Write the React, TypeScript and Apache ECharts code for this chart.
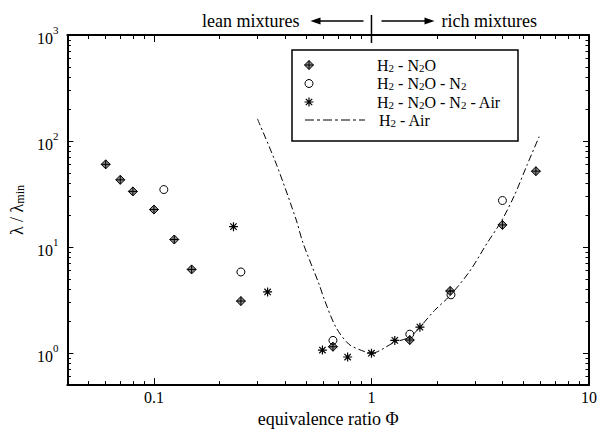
import React, { useEffect, useRef } from 'react';
import * as echarts from 'echarts';

// ---- axis ranges & ticks ----
const xMin = 0.04;
const xMax = 10;
const yMin = 0.5;
const yMax = 1000;
const xMajorTicks = [0.1, 1, 10];
const xMinorTicks = [0.05, 0.06, 0.07, 0.08, 0.09, 0.2, 0.3, 0.4, 0.5, 0.6, 0.7, 0.8, 0.9, 2, 3, 4, 5, 6, 7, 8, 9];
const yMajorTicks = [1, 10, 100, 1000];
const yMinorTicks = [0.6, 0.7, 0.8, 0.9, 2, 3, 4, 5, 6, 7, 8, 9, 20, 30, 40, 50, 60, 70, 80, 90, 200, 300, 400, 500, 600, 700, 800, 900];

// ---- data ----
const seriesNames = ['H2 - N2O', 'H2 - N2O - N2', 'H2 - N2O - N2 - Air', 'H2 - Air'];

const n2oPhi = [0.060, 0.070, 0.080, 0.100, 0.124, 0.149, 0.251, 0.665, 1.50, 2.30, 4.0, 5.7];
const n2oLam = [60.3, 43.1, 33.5, 22.6, 11.8, 6.16, 3.1, 1.15, 1.33, 3.86, 16.2, 52];

const n2oN2Phi = [0.111, 0.251, 0.665, 1.50, 2.32, 4.0];
const n2oN2Lam = [34.9, 5.83, 1.32, 1.51, 3.55, 27.5];

const n2oN2AirPhi = [0.232, 0.333, 0.595, 0.777, 1.0, 1.28, 1.67];
const n2oN2AirLam = [15.6, 3.78, 1.07, 0.92, 1.0, 1.32, 1.76];

const h2AirPhi = [0.299, 0.367, 0.451, 0.484, 0.575, 0.606, 0.684, 0.785, 0.901, 1.0, 1.27, 1.5, 1.67, 1.95, 2.29, 2.82, 3.41, 3.95, 4.55, 5.2, 5.9];
const h2AirLam = [162, 59, 18, 11, 4.44, 3.24, 1.78, 1.22, 1.06, 1.0, 1.26, 1.42, 1.76, 2.53, 3.47, 5.87, 11, 17.5, 31, 60, 110];

const FONT = 'Liberation Serif';

const crossDiamondPath = 'M0,-4.5L4.5,0L0,4.5L-4.5,0ZM0,-4.5L0,4.5M-4.5,0L4.5,0';
const asteriskPath = 'M-4.5,0L4.5,0M0,-4.5L0,4.5M-3.2,-3.2L3.2,3.2M-3.2,3.2L3.2,-3.2';

let shapesRegistered = false;
function registerShapes() {
  if (shapesRegistered) return;
  echarts.graphic.registerShape('crossDiamond', echarts.graphic.extendPath(crossDiamondPath, {}) as any);
  echarts.graphic.registerShape('asteriskMark', echarts.graphic.extendPath(asteriskPath, {}) as any);
  shapesRegistered = true;
}

const zip = (a: number[], b: number[]) => a.map((v, i) => [v, b[i]]);

const subRich = {
  a: { fontSize: 16, fontFamily: FONT, color: '#000', lineHeight: 16, verticalAlign: 'top' },
  s: { fontSize: 11, fontFamily: FONT, color: '#000', lineHeight: 10, verticalAlign: 'bottom' },
};

function makeXAxis(position: 'top' | 'bottom', major: boolean, withLabel: boolean) {
  return {
    type: 'log',
    logBase: 10,
    min: xMin,
    max: xMax,
    position,
    axisLine: { show: major, onZero: false, lineStyle: { color: '#000', width: 2 } },
    axisTick: {
      show: true,
      inside: true,
      length: major ? 7 : 4,
      lineStyle: { color: '#000', width: 1 },
      customValues: major ? xMajorTicks : xMinorTicks,
    },
    axisLabel: withLabel
      ? {
          show: true,
          customValues: xMajorTicks,
          margin: 4,
          color: '#000',
          fontFamily: FONT,
          fontSize: 16,
          formatter: (v: number) => (v < 1 ? v.toFixed(1) : String(Math.round(v))),
        }
      : { show: false },
    splitLine: { show: false },
    minorTick: { show: false },
    ...(withLabel
      ? {
          name: 'equivalence ratio Φ',
          nameLocation: 'middle',
          nameGap: 19,
          nameTextStyle: { fontFamily: FONT, fontSize: 18, color: '#000' },
        }
      : {}),
  };
}

function makeYAxis(position: 'left' | 'right', major: boolean, withLabel: boolean) {
  return {
    type: 'log',
    logBase: 10,
    min: yMin,
    max: yMax,
    position,
    axisLine: { show: major, onZero: false, lineStyle: { color: '#000', width: 2 } },
    axisTick: {
      show: true,
      inside: true,
      length: major ? 6 : 3.5,
      lineStyle: { color: '#000', width: 1 },
      customValues: major ? yMajorTicks : yMinorTicks,
    },
    axisLabel: withLabel
      ? {
          show: true,
          customValues: yMajorTicks,
          margin: 9,
          formatter: (v: number) => `{b|10}{sup|${Math.round(Math.log10(v))}}`,
          rich: {
            b: { fontSize: 16, fontFamily: FONT, color: '#000', lineHeight: 22, verticalAlign: 'bottom' },
            sup: { fontSize: 11, fontFamily: FONT, color: '#000', lineHeight: 12, verticalAlign: 'top' },
          },
        }
      : { show: false },
    splitLine: { show: false },
    minorTick: { show: false },
    ...(withLabel
      ? {
          name: 'λ / λ{s|min}',
          nameLocation: 'middle',
          nameGap: 30,
          nameRotate: 90,
          nameTextStyle: {
            fontFamily: FONT,
            fontSize: 18,
            color: '#000',
            rich: {
              s: { fontSize: 12, fontFamily: FONT, color: '#000', lineHeight: 14, verticalAlign: 'bottom' },
            },
          },
        }
      : {}),
  };
}

export default function App() {
  const ref = useRef<HTMLDivElement>(null);

  useEffect(() => {
    if (!ref.current) return;
    registerShapes();
    const chart = echarts.init(ref.current, undefined, { renderer: 'svg' });

    const option: any = {
      animation: false,
      backgroundColor: '#fff',
      textStyle: { fontFamily: FONT },
      grid: { left: 61, right: 8, top: 35, bottom: 36, containLabel: false },
      xAxis: [
        makeXAxis('bottom', true, true),
        makeXAxis('bottom', false, false),
        makeXAxis('top', true, false),
        makeXAxis('top', false, false),
      ],
      yAxis: [
        makeYAxis('left', true, true),
        makeYAxis('left', false, false),
        makeYAxis('right', true, false),
        makeYAxis('right', false, false),
      ],
      series: [
        {
          name: seriesNames[3],
          type: 'line',
          data: zip(h2AirPhi, h2AirLam),
          showSymbol: false,
          symbol: 'none',
          smooth: 0.3,
          lineStyle: { color: '#000', width: 1, type: [7, 3, 2, 3] },
          z: 2,
        },
        {
          name: seriesNames[0],
          type: 'scatter',
          data: zip(n2oPhi, n2oLam),
          symbol: 'path://' + crossDiamondPath,
          symbolSize: 9,
          itemStyle: { color: '#8a8a8a', borderColor: '#000', borderWidth: 1, opacity: 1 },
          z: 3,
        },
        {
          name: seriesNames[1],
          type: 'scatter',
          data: zip(n2oN2Phi, n2oN2Lam),
          symbol: 'circle',
          symbolSize: 8,
          itemStyle: { color: 'rgba(255,255,255,0)', borderColor: '#000', borderWidth: 1, opacity: 1 },
          z: 4,
        },
        {
          name: seriesNames[2],
          type: 'scatter',
          data: zip(n2oN2AirPhi, n2oN2AirLam),
          symbol: 'path://' + asteriskPath,
          symbolSize: 9,
          itemStyle: { color: '#000', borderColor: '#000', borderWidth: 1.2, opacity: 1 },
          z: 5,
        },
      ],
    };
    chart.setOption(option);

    const xOne = chart.convertToPixel({ xAxisIndex: 0 }, 1) as number;
    const ay = 21;

    const legendRows = [65, 83.5, 102, 120];
    chart.setOption({
      graphic: [
        // top annotation
        { type: 'line', shape: { x1: xOne, y1: 15, x2: xOne, y2: 43 }, style: { stroke: '#000', lineWidth: 1.5 }, z: 100 },
        { type: 'line', shape: { x1: xOne - 8, y1: ay, x2: xOne - 58, y2: ay }, style: { stroke: '#000', lineWidth: 1.3 }, z: 100 },
        { type: 'polygon', shape: { points: [[xOne - 61, ay], [xOne - 51, ay - 3.5], [xOne - 51, ay + 3.5]] }, style: { fill: '#000' }, z: 100 },
        { type: 'line', shape: { x1: xOne + 10, y1: ay, x2: xOne + 60, y2: ay }, style: { stroke: '#000', lineWidth: 1.3 }, z: 100 },
        { type: 'polygon', shape: { points: [[xOne + 63, ay], [xOne + 53, ay - 3.5], [xOne + 53, ay + 3.5]] }, style: { fill: '#000' }, z: 100 },
        { type: 'text', x: xOne - 72, y: ay, style: { text: 'lean mixtures', fontFamily: FONT, fontSize: 18, fill: '#000', align: 'right', verticalAlign: 'middle' }, z: 100 },
        { type: 'text', x: xOne + 70, y: ay, style: { text: 'rich mixtures', fontFamily: FONT, fontSize: 18, fill: '#000', align: 'left', verticalAlign: 'middle' }, z: 100 },
        // legend
        { type: 'rect', shape: { x: 292, y: 50, width: 226, height: 91 }, style: { fill: '#fff', stroke: '#000', lineWidth: 1.5 }, z: 100 },
        { type: 'crossDiamond', x: 309, y: legendRows[0], style: { fill: '#8a8a8a', stroke: '#000', lineWidth: 1 }, z: 101 },
        { type: 'circle', shape: { cx: 309, cy: legendRows[1], r: 4 }, style: { fill: '#fff', stroke: '#000', lineWidth: 1 }, z: 101 },
        { type: 'asteriskMark', x: 309, y: legendRows[2], style: { fill: 'none', stroke: '#000', lineWidth: 1.2 }, z: 101 },
        { type: 'line', shape: { x1: 305, y1: legendRows[3], x2: 365, y2: legendRows[3] }, style: { stroke: '#000', lineWidth: 1, lineDash: [9, 3, 3, 3] }, z: 101 },
        { type: 'text', x: 377, y: legendRows[0], style: { text: '{a|H}{s|2}{a| - N}{s|2}{a|O}', rich: subRich, verticalAlign: 'middle', align: 'left' }, z: 101 },
        { type: 'text', x: 377, y: legendRows[1], style: { text: '{a|H}{s|2}{a| - N}{s|2}{a|O - N}{s|2}', rich: subRich, verticalAlign: 'middle', align: 'left' }, z: 101 },
        { type: 'text', x: 377, y: legendRows[2], style: { text: '{a|H}{s|2}{a| - N}{s|2}{a|O - N}{s|2}{a| - Air}', rich: subRich, verticalAlign: 'middle', align: 'left' }, z: 101 },
        { type: 'text', x: 379, y: legendRows[3], style: { text: '{a|H}{s|2}{a| - Air}', rich: subRich, verticalAlign: 'middle', align: 'left' }, z: 101 },
      ],
    });

    return () => chart.dispose();
  }, []);

  return (
    <>
      <style>{`#chart-root svg text, #chart-root svg tspan { font-family: "Liberation Serif", serif !important; }`}</style>
      <div
        id="chart-root"
        ref={ref}
        style={{ position: 'fixed', left: 0, top: 0, width: 600, height: 433, background: '#fff' }}
      />
    </>
  );
}
